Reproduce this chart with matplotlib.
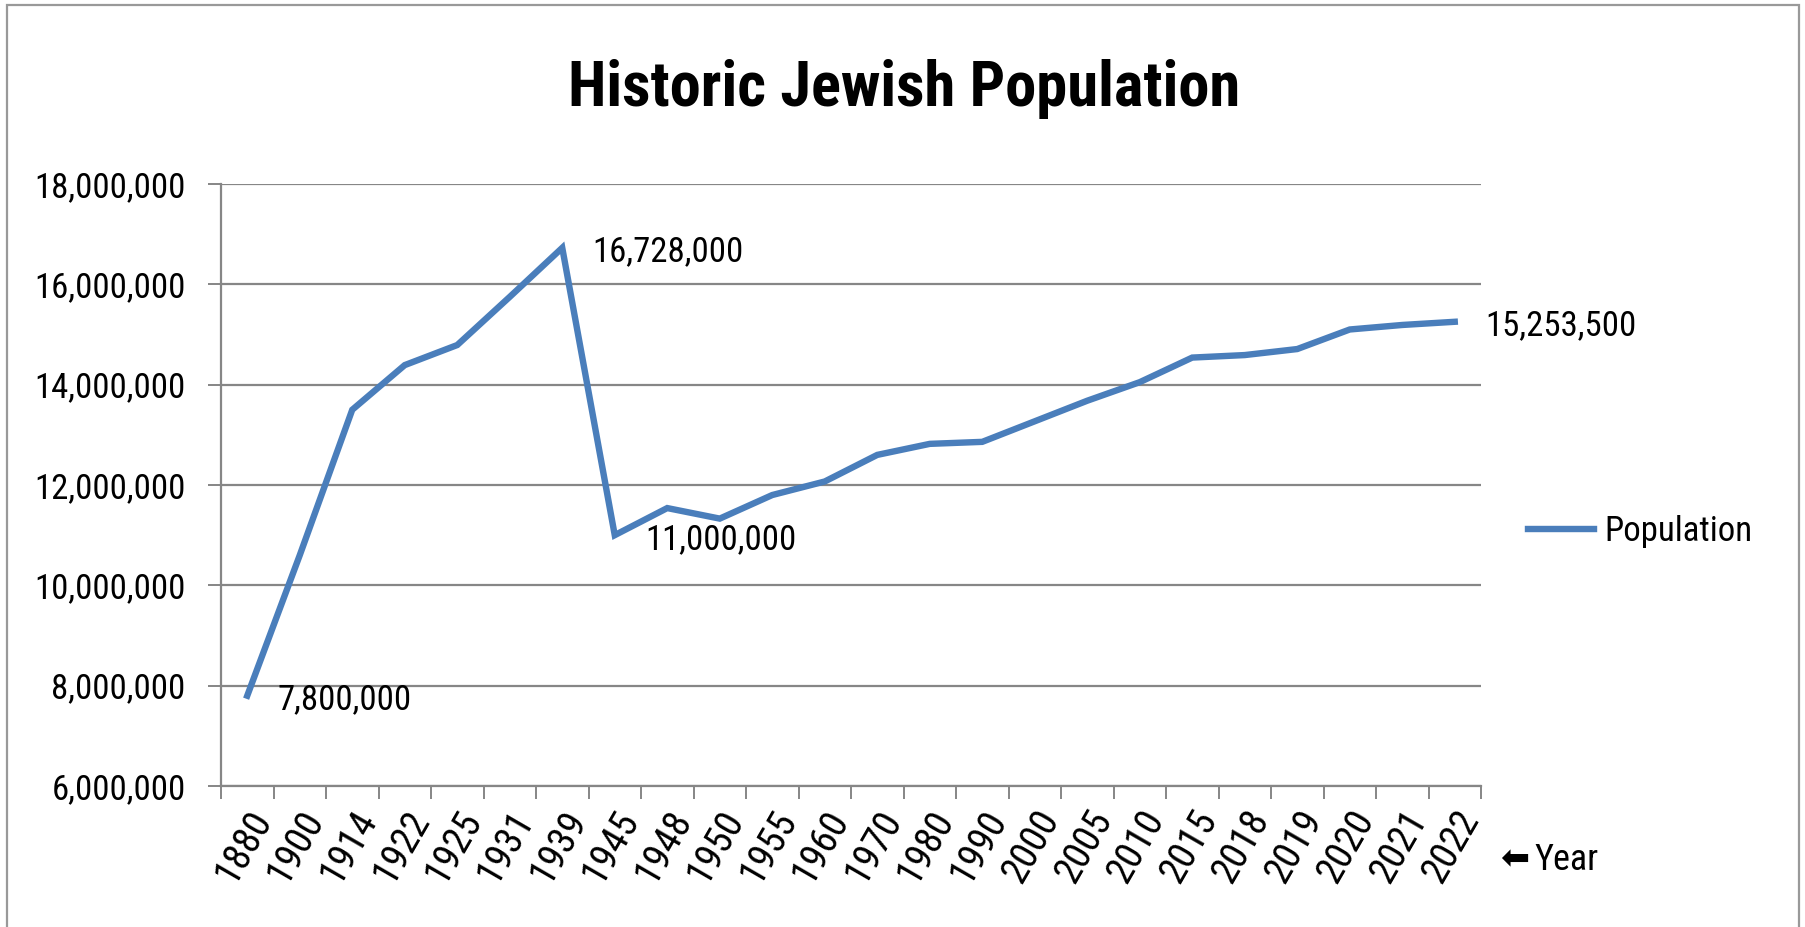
import matplotlib
matplotlib.use('Agg')
import matplotlib.pyplot as plt
import matplotlib.ticker as mticker
from matplotlib.patches import Rectangle
from matplotlib import font_manager

names = {f.name for f in font_manager.fontManager.ttflist}
narrow = [n for n in ['Roboto Condensed', 'Liberation Sans Narrow', 'Open Sans Condensed'] if n in names]
plt.rcParams['font.family'] = narrow + ['Liberation Sans', 'DejaVu Sans']

# data
years = ['1880', '1900', '1914', '1922', '1925', '1931', '1939', '1945', '1948', '1950',
         '1955', '1960', '1970', '1980', '1990', '2000', '2005', '2010', '2015', '2018',
         '2019', '2020', '2021', '2022']
population = [7800000, 10600000, 13500000, 14390000, 14790000, 15750000, 16728000, 11000000,
              11540000, 11330000, 11800000, 12070000, 12600000, 12820000, 12860000, 13270000,
              13680000, 14050000, 14540000, 14590000, 14710000, 15100000, 15190000, 15253500]
labelled = ['1880', '1939', '1945', '2022']

W, H = 1806, 927
fig = plt.figure(figsize=(W / 100, H / 100), dpi=100)
ax = fig.add_axes([221 / W, 1 - 786 / H, (1481 - 221) / W, (786 - 184) / H])

blue = '#4A7EBB'
grey = '#868686'

x = [i + 0.5 for i in range(len(years))]
ax.plot(x, population, color=blue, lw=4.6, solid_joinstyle='miter', label='Population')

for yr in labelled:
    i = years.index(yr)
    ax.annotate(f'{population[i]:,}', (x[i], population[i]), xytext=(22, -3),
                textcoords='offset points', va='center', ha='left', fontsize=25)

ax.set_xlim(0, len(years))
ax.set_ylim(6000000, 18000000)
ax.set_yticks(range(6000000, 18000001, 2000000))
ax.yaxis.set_major_formatter(mticker.FuncFormatter(lambda v, p: f'{int(v):,}'))
ax.yaxis.grid(True, color=grey, lw=1.6)
ax.set_axisbelow(True)

ax.set_xticks(range(len(years) + 1))
ax.set_xticklabels([])
ax.set_xticks(x, minor=True)
ax.set_xticklabels(years, minor=True, rotation=60, ha='right', va='top',
                   rotation_mode='anchor', fontsize=28)
ax.tick_params(axis='x', which='minor', length=0, pad=13)
ax.tick_params(axis='both', which='major', direction='out', length=9.5, width=1.4,
               color=grey, labelsize=25)
ax.tick_params(axis='y', pad=16)

for s in ['top', 'right']:
    ax.spines[s].set_visible(False)
for s in ['left', 'bottom']:
    ax.spines[s].set_color(grey)
    ax.spines[s].set_linewidth(1.6)

fig.text(904 / W, 1 - 89 / H, 'Historic Jewish Population', ha='center', va='center',
         fontsize=45, fontweight='bold')

fig.legend(loc='center left', bbox_to_anchor=(1528 / W, 1 - 532 / H), frameon=False,
           fontsize=25, handlelength=1.9, handletextpad=0.3, borderpad=0, borderaxespad=0)

fig.text(1500 / W, 1 - 859 / H, '\u2B05', ha='left', va='center', fontsize=25,
         family=['DejaVu Sans'])
fig.text(1534 / W, 1 - 860 / H, 'Year', ha='left', va='center', fontsize=26)

fig.patches.append(Rectangle((7 / W, -0.05), (1799 - 7) / W, 1.05 - 5 / H,
                             transform=fig.transFigure, fill=False, edgecolor='#999999', lw=1.6))

fig.savefig('out.png', dpi=100)
